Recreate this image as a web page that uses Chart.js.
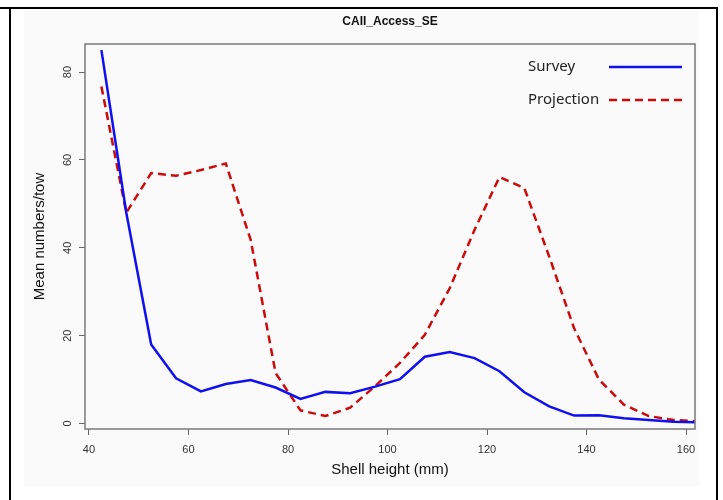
<!DOCTYPE html>
<html>
<head>
<meta charset="utf-8">
<script src="https://cdn.jsdelivr.net/npm/chart.js@4"></script>
<style>
  html, body { margin: 0; padding: 0; background: #fff; }
  canvas { display: block; }
</style>
</head>
<body>
<canvas id="grafico" width="723" height="500"></canvas>
<script>
// Datos
const titulo = "CAII_Access_SE";
const tallas = [42.5, 47.5, 52.5, 57.5, 62.5, 67.5, 72.5, 77.5, 82.5, 87.5, 92.5, 97.5, 102.5,
                107.5, 112.5, 117.5, 122.5, 127.5, 132.5, 137.5, 142.5, 147.5, 152.5, 157.5, 162.5];
const survey = [85, 48, 18, 10.3, 7.3, 9.0, 9.9, 8.2, 5.6, 7.2, 6.9, 8.4, 10.1,
                15.2, 16.3, 14.9, 11.9, 7.1, 3.9, 1.8, 1.9, 1.2, 0.8, 0.4, 0.3];
const projection = [76.7, 48, 57, 56.4, 57.7, 59.2, 41.8, 11.5, 3.0, 1.7, 3.6, 8.5, 13.8,
                    20.2, 30.8, 44.1, 56.1, 53.6, 38.0, 21.7, 10.0, 4.3, 1.7, 0.8, 0.5];
const ticksX = [40, 60, 80, 100, 120, 140, 160];
const ticksY = [0, 20, 40, 60, 80];

const fuenteR = "'Liberation Sans', Arial, sans-serif";

// fondo, bordes de la celda, caja del grafico, titulo y leyenda
const marco = {
  id: "marco",
  beforeDraw(chart) {
    const ctx = chart.ctx;
    ctx.save();
    ctx.fillStyle = "#fff";
    ctx.fillRect(0, 0, chart.width, chart.height);
    ctx.fillStyle = "#fafafa";
    ctx.fillRect(24, 9, 675, 477);
    ctx.fillStyle = "#000";
    ctx.fillRect(0, 7, 718, 2);
    ctx.fillRect(9, 7, 2, 493);
    ctx.fillRect(716, 7, 2, 493);
    ctx.restore();
  },
  afterDraw(chart) {
    const { ctx, chartArea: a } = chart;
    ctx.save();
    ctx.strokeStyle = "#7a7a7a";
    ctx.lineWidth = 1.5;
    ctx.strokeRect(a.left, a.top, a.right - a.left, a.bottom - a.top);

    ctx.fillStyle = "#111";
    ctx.font = "bold 12px " + fuenteR;
    ctx.textAlign = "center";
    ctx.textBaseline = "middle";
    ctx.fillText(titulo, (a.left + a.right) / 2, 22);

    // leyenda: texto a la izquierda, linea a la derecha
    chart.data.datasets.forEach((ds, i) => {
      const y = 67 + i * 33;
      ctx.font = "15px 'Noto Sans', sans-serif";
      ctx.fillStyle = "#222";
      ctx.textAlign = "left";
      ctx.fillText(ds.label, 528, y);
      ctx.strokeStyle = ds.borderColor;
      ctx.lineWidth = 2.5;
      ctx.setLineDash(ds.borderDash || []);
      ctx.beginPath();
      ctx.moveTo(609, y);
      ctx.lineTo(682, y);
      ctx.stroke();
    });
    ctx.restore();
  }
};

const puntos = serie => tallas.map((t, i) => ({ x: t, y: serie[i] }));

new Chart(document.getElementById("grafico"), {
  type: "line",
  data: {
    datasets: [
      {
        label: "Survey",
        data: puntos(survey),
        borderColor: "#1010ee",
        borderWidth: 2.5,
        pointRadius: 0,
        tension: 0
      },
      {
        label: "Projection",
        data: puntos(projection),
        borderColor: "#cc0a0a",
        borderWidth: 2.5,
        borderDash: [8, 5],
        pointRadius: 0,
        tension: 0
      }
    ]
  },
  options: {
    responsive: false,
    animation: false,
    devicePixelRatio: 1,
    layout: { padding: { top: 44, right: 28, bottom: 0, left: 0 } },
    plugins: {
      legend: { display: false },
      tooltip: { enabled: false }
    },
    scales: {
      x: {
        type: "linear",
        min: 39.2,
        max: 161.8,
        afterBuildTicks: s => { s.ticks = ticksX.map(v => ({ value: v })); },
        afterFit: s => { s.height = 71; },
        grid: { drawOnChartArea: false, drawTicks: true, tickLength: 6, color: "#666" },
        border: { display: false },
        ticks: { padding: 8, color: "#333", font: { family: fuenteR, size: 11 } },
        title: {
          display: true,
          text: "Shell height (mm)",
          color: "#111",
          font: { family: fuenteR, size: 15 },
          padding: { top: 21, bottom: 21 }
        }
      },
      y: {
        type: "linear",
        min: -1.25,
        max: 86.4,
        afterBuildTicks: s => { s.ticks = ticksY.map(v => ({ value: v })); },
        afterFit: s => { s.width = 85; },
        grid: { drawOnChartArea: false, drawTicks: true, tickLength: 6, color: "#666" },
        border: { display: false },
        ticks: {
          padding: 5,
          minRotation: 90,
          maxRotation: 90,
          crossAlign: "center",
          color: "#333",
          font: { family: fuenteR, size: 11 }
        },
        title: {
          display: true,
          text: "Mean numbers/tow",
          color: "#111",
          font: { family: fuenteR, size: 15 },
          padding: { top: 31, bottom: 31 }
        }
      }
    }
  },
  plugins: [marco]
});
</script>
</body>
</html>
